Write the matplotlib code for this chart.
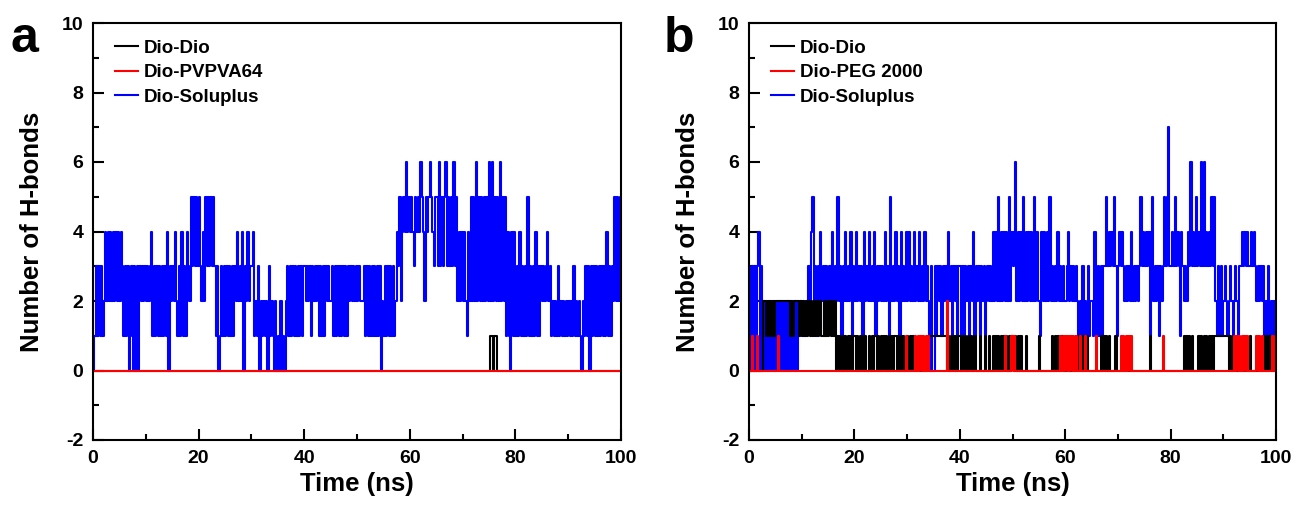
import numpy as np
import matplotlib
matplotlib.use("Agg")
import matplotlib.pyplot as plt
from matplotlib.ticker import MultipleLocator
from matplotlib.lines import Line2D

plt.rcParams['font.family'] = ['Liberation Sans', 'DejaVu Sans']
plt.rcParams['font.weight'] = 'bold'
plt.rcParams['axes.unicode_minus'] = False
plt.rcParams['path.simplify'] = False

# ---------------- data (one digit = H-bond count, sampled every 0.25 ns, 0..100 ns) ----------------
dt = 0.25

# Panel a
dio_a_blocks = [
    "00000000000000000000", "00000000000000000000", "00000000000000000000", "00000000000000000000",
    "00000000000000000000", "00000000000000000000", "00000000000000000000", "00000000000000000000",
    "00000000000000000000", "00000000000000000000", "00000000000000000000", "00000000000000000000",
    "00000000000000000000", "00000000000000000000", "00000000000000000000", "01101100000000000000",
    "00000000000000000000", "00000000000000000000", "00000000000000000000", "00000000000000000000",
    "0",
]
pvpva_a_blocks = [
    "00000000000000000000", "00000000000000000000", "00000000000000000000", "00000000000000000000",
    "00000000000000000000", "00000000000000000000", "00000000000000000000", "00000000000000000000",
    "00000000000000000000", "00000000000000000000", "00000000000000000000", "00000000000000000000",
    "00000000000000000000", "00000000000000000000", "00000000000000000000", "00000000000000000000",
    "00000000000000000000", "00000000000000000000", "00000000000000000000", "00000000000000000000",
    "0",
]
sol_a_blocks = [
    "01313131242424242424", "24313130130303032323", "23234131313131314032", "32421314131432535353",
    "53242535353531301313", "13131313242324032423", "34121302121203121020", "10201023131313131313",
    "32323132323131313232", "23131313131313232323", "23222313131313131302", "13131313124352454645",
    "45435454654254565435", "53635356353536352424", "24214252526252525252", "62625252625251410414",
    "13141313151313141313", "23234231212131212121", "21213121210213130313", "13131313141313252525",
    "4",
]

# Panel b
dio_b_blocks = [
    "00000000000221212121", "22222222222121222212", "12121212121212211212", "12121201010101010101",
    "10101010100101011010", "10101010101101010100", "10101000000000001111", "11111111110101010101",
    "10101010100100010001", "00100101010101010101", "10101010001000000000", "10000000001010100100",
    "00000000101010101000", "00000001010101000010", "00000000000000000000", "00001000000000000000",
    "00000000001010101000", "01010101010101111111", "11110101010000000000", "10000000000101010000",
    "0",
]
peg_b_blocks = [
    "00100010000000000000", "00100000000000000000", "00000000000000000000", "00000000000000000000",
    "00000000000000000000", "00000000000000000001", "00000010101010101000", "00000000002000000000",
    "00000000000000000000", "00000000000000100001", "01000000000000000000", "00000000000000001010",
    "10101010100100010000", "00010000000000000000", "00101010101000000000", "00000000000000100000",
    "00000000000000000000", "00000000000000000000", "00000000101010101010", "00000101010000000101",
    "0",
]
sol_b_blocks = [
    "30303034030202020202", "02020202020202020212", "12122324523132423132", "23242325231324232413",
    "24232314232423241323", "23242315232423142324", "24232423242324232030", "03132313231423132313",
    "30313231324132313231", "23232424252424242524", "34624242524242425242", "21424242523232423232",
    "23423232321213121312", "21411313133534343531", "34343232324232323534", "34341452323132353573",
    "34353431432324363435", "34363634343535213131", "23212321232133434343", "34343232323121312121",
    "2",
]

labels_a = ["Dio-Dio", "Dio-PVPVA64", "Dio-Soluplus"]
labels_b = ["Dio-Dio", "Dio-PEG 2000", "Dio-Soluplus"]
colors = ["#000000", "#ff0000", "#0000ff"]
xticks = [0, 20, 40, 60, 80, 100]
yticks = [-2, 0, 2, 4, 6, 8, 10]


def to_arr(blocks):
    s = "".join(blocks)
    assert len(s) == 401, len(s)
    return np.array([int(c) for c in s], dtype=float)


series_a = [to_arr(dio_a_blocks), to_arr(pvpva_a_blocks), to_arr(sol_a_blocks)]
series_b = [to_arr(dio_b_blocks), to_arr(peg_b_blocks), to_arr(sol_b_blocks)]
t = np.arange(401) * dt

fig = plt.figure(figsize=(12.96, 5.08), dpi=100)
axa = fig.add_axes([93 / 1296, 1 - 440 / 508, 528 / 1296, 417 / 508])
axb = fig.add_axes([749 / 1296, 1 - 440 / 508, 527 / 1296, 417 / 508])

for ax, series, labels, letter, lx in [(axa, series_a, labels_a, "a", 10 / 1296),
                                       (axb, series_b, labels_b, "b", 664 / 1296)]:
    # drawing order: Soluplus (blue) underneath, then Dio-Dio (black), then polymer (red)
    for idx in (2, 0, 1):
        ax.step(t, series[idx], where="post", color=colors[idx], lw=1.5)
    ax.set_xlim(0, 100)
    ax.set_ylim(-2, 10)
    ax.set_xticks(xticks)
    ax.set_yticks(yticks)
    ax.xaxis.set_minor_locator(MultipleLocator(10))
    ax.yaxis.set_minor_locator(MultipleLocator(1))
    ax.tick_params(which="both", direction="in", top=False, right=False, width=1.5,
                   labelsize=14, pad=7)
    ax.tick_params(which="major", length=8)
    ax.tick_params(which="minor", length=4.5)
    for lab in ax.get_xticklabels() + ax.get_yticklabels():
        lab.set_fontweight("bold")
    for sp in ax.spines.values():
        sp.set_linewidth(1.5)
    ax.set_xlabel("Time (ns)", fontsize=18.5, fontweight="bold", labelpad=4)
    ax.set_ylabel("Number of H-bonds", fontsize=18.5, fontweight="bold", labelpad=13)
    handles = [Line2D([], [], color=c, lw=1.5) for c in colors]
    ax.legend(handles, labels, loc="upper left", bbox_to_anchor=(0.01, 1.0), frameon=False,
              handlelength=1.2, handletextpad=0.35, labelspacing=0.38,
              prop={"weight": "bold", "size": 13.5})
    fig.text(lx, 1 - 52 / 508, letter, fontsize=36, fontweight="bold", ha="left", va="baseline")

fig.savefig("out.png", dpi=100)
